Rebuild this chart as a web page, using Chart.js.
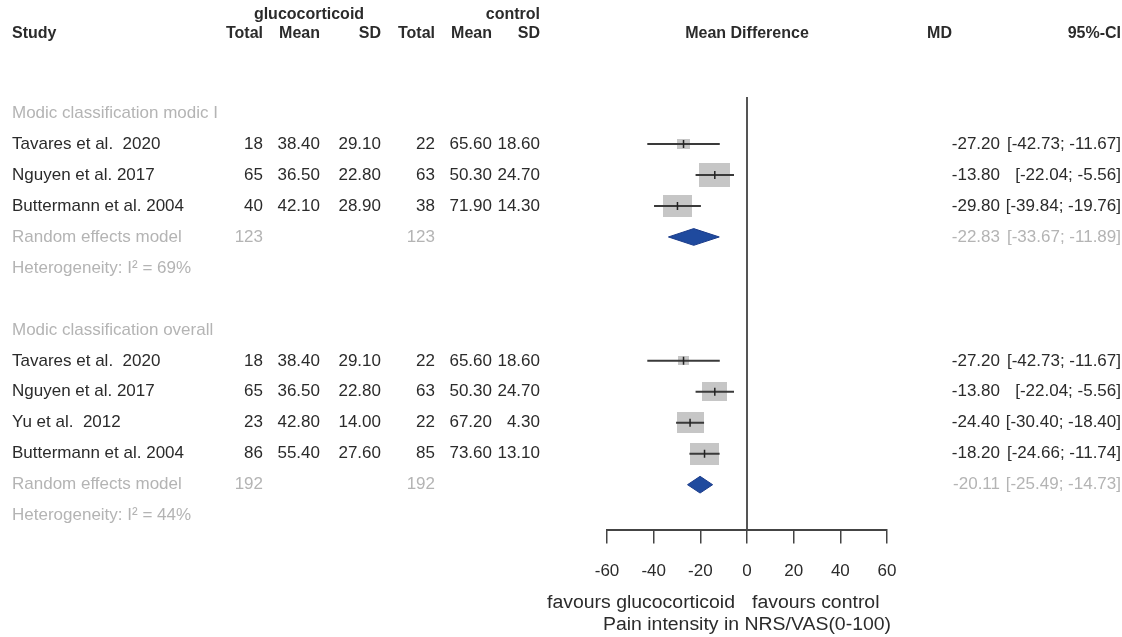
<!DOCTYPE html>
<html>
<head>
<meta charset="utf-8">
<script src="https://cdn.jsdelivr.net/npm/chart.js@4"></script>
<style>
  html, body { margin: 0; padding: 0; background: #fff; }
  #wrap { width: 1122px; height: 637px; position: relative; }
</style>
</head>
<body>
<div id="wrap"><canvas id="forest"></canvas></div>
<script>
// --- data ---
const groupLabels = ['Modic classification modic I', 'Modic classification overall'];

const g1Study = ['Tavares et al.  2020', 'Nguyen et al. 2017', 'Buttermann et al. 2004'];
const g1TotalE = [18, 65, 40];
const g1MeanE = [38.40, 36.50, 42.10];
const g1SdE = [29.10, 22.80, 28.90];
const g1TotalC = [22, 63, 38];
const g1MeanC = [65.60, 50.30, 71.90];
const g1SdC = [18.60, 24.70, 14.30];
const g1MD = [-27.20, -13.80, -29.80];
const g1Lo = [-42.73, -22.04, -39.84];
const g1Hi = [-11.67, -5.56, -19.76];
const g1Weight = [7, 38, 32];

const g2Study = ['Tavares et al.  2020', 'Nguyen et al. 2017', 'Yu et al.  2012', 'Buttermann et al. 2004'];
const g2TotalE = [18, 65, 23, 86];
const g2MeanE = [38.40, 36.50, 42.80, 55.40];
const g2SdE = [29.10, 22.80, 14.00, 27.60];
const g2TotalC = [22, 63, 22, 85];
const g2MeanC = [65.60, 50.30, 67.20, 73.60];
const g2SdC = [18.60, 24.70, 4.30, 13.10];
const g2MD = [-27.20, -13.80, -24.40, -18.20];
const g2Lo = [-42.73, -22.04, -30.40, -24.66];
const g2Hi = [-11.67, -5.56, -18.40, -11.74];
const g2Weight = [5, 24, 29, 32];

const pooledTotalE = [123, 192];
const pooledTotalC = [123, 192];
const pooledMD = [-22.83, -20.11];
const pooledLo = [-33.67, -25.49];
const pooledHi = [-11.89, -14.73];
const hetI2 = [69, 44];

const xTickValues = [-60, -40, -20, 0, 20, 40, 60];

// --- build the row table ---
const groups = [
  {label: groupLabels[0], study: g1Study, nE: g1TotalE, mE: g1MeanE, sE: g1SdE,
   nC: g1TotalC, mC: g1MeanC, sC: g1SdC, md: g1MD, lo: g1Lo, hi: g1Hi, w: g1Weight},
  {label: groupLabels[1], study: g2Study, nE: g2TotalE, mE: g2MeanE, sE: g2SdE,
   nC: g2TotalC, mC: g2MeanC, sC: g2SdC, md: g2MD, lo: g2Lo, hi: g2Hi, w: g2Weight}
];

const rows = [];
let r = 0;
groups.forEach((g, gi) => {
  if (gi > 0) r++;
  rows.push({type: 'label', y: r++, gi});
  g.study.forEach((s, i) => rows.push({type: 'study', y: r++, gi, i}));
  rows.push({type: 'pooled', y: r++, gi});
  rows.push({type: 'het', y: r++, gi});
});

const TEXT = '#2b2b2b';
const GREY = '#b4b4b4';
const FAMILY = '"Liberation Sans", Arial, sans-serif';
const FONT = '17px ' + FAMILY;
const BOLD = 'bold 16px ' + FAMILY;
const AXIS_FONT = '18px ' + FAMILY;

// grey weight boxes, a bit wider than tall like in the picture
function boxImage(side) {
  const c = document.createElement('canvas');
  c.width = Math.round(side * 1.3);
  c.height = Math.round(side);
  const g = c.getContext('2d');
  g.fillStyle = '#c6c6c6';
  g.fillRect(0, 0, c.width, c.height);
  return c;
}

const ciData = [], pointData = [], squareData = [], squareStyle = [];
rows.filter(row => row.type === 'study').forEach(row => {
  const g = groups[row.gi];
  ciData.push({x: g.lo[row.i], y: row.y}, {x: g.hi[row.i], y: row.y}, {x: null, y: null});
  pointData.push({x: g.md[row.i], y: row.y});
  squareData.push({x: g.md[row.i], y: row.y});
  squareStyle.push(boxImage(3.9 * Math.sqrt(g.w[row.i])));
});

const diamondSets = rows.filter(row => row.type === 'pooled').map(row => ({
  type: 'line',
  data: [
    {x: pooledLo[row.gi], y: row.y},
    {x: pooledMD[row.gi], y: row.y - 0.27},
    {x: pooledHi[row.gi], y: row.y},
    {x: pooledMD[row.gi], y: row.y + 0.27},
    {x: pooledLo[row.gi], y: row.y}
  ],
  borderColor: '#1a3b8a',
  backgroundColor: '#1f4a9e',
  borderWidth: 1,
  fill: 'shape',
  pointRadius: 0,
  tension: 0,
  order: 1
}));

const yMin = -0.52, yMax = 13.45;

const fmt = v => v.toFixed(2);

const tablePlugin = {
  id: 'forestTable',
  afterDraw(chart) {
    const ctx = chart.ctx;
    const ys = chart.scales.y, xs = chart.scales.x;
    const area = chart.chartArea;
    const cols = [263, 320, 381, 435, 492, 540];
    const mdRight = 1000, ciRight = 1121;
    ctx.save();
    ctx.textBaseline = 'middle';

    const put = (txt, x, y, align, color, font, sx) => {
      ctx.save();
      ctx.font = font || FONT;
      ctx.fillStyle = color || TEXT;
      ctx.textAlign = align || 'left';
      ctx.translate(x, y);
      ctx.scale(sx || 1, 1);
      ctx.fillText(txt, 0, 0);
      ctx.restore();
    };
    const head = (txt, x, y, align) => put(txt, x, y, align, TEXT, BOLD);

    // headers
    const h1 = area.top - 82, h2 = area.top - 63;
    head('glucocorticoid', 309, h1, 'center');
    head('control', cols[5], h1, 'right');
    head('Study', 12, h2, 'left');
    ['Total', 'Mean', 'SD', 'Total', 'Mean', 'SD'].forEach((t, k) => head(t, cols[k], h2, 'right'));
    head('Mean Difference', xs.getPixelForValue(0), h2, 'center');
    head('MD', 952, h2, 'right');
    head('95%-CI', ciRight, h2, 'right');

    rows.forEach(row => {
      const g = groups[row.gi];
      const py = ys.getPixelForValue(row.y);
      if (row.type === 'label') {
        put(g.label, 12, py, 'left', GREY);
      } else if (row.type === 'study') {
        const i = row.i;
        put(g.study[i], 12, py);
        put(String(g.nE[i]), cols[0], py, 'right');
        put(fmt(g.mE[i]), cols[1], py, 'right');
        put(fmt(g.sE[i]), cols[2], py, 'right');
        put(String(g.nC[i]), cols[3], py, 'right');
        put(fmt(g.mC[i]), cols[4], py, 'right');
        put(fmt(g.sC[i]), cols[5], py, 'right');
        put(fmt(g.md[i]), mdRight, py, 'right');
        put('[' + fmt(g.lo[i]) + '; ' + fmt(g.hi[i]) + ']', ciRight, py, 'right');
      } else if (row.type === 'pooled') {
        put('Random effects model', 12, py, 'left', GREY);
        put(String(pooledTotalE[row.gi]), cols[0], py, 'right', GREY);
        put(String(pooledTotalC[row.gi]), cols[3], py, 'right', GREY);
        put(fmt(pooledMD[row.gi]), mdRight, py, 'right', GREY);
        put('[' + fmt(pooledLo[row.gi]) + '; ' + fmt(pooledHi[row.gi]) + ']', ciRight, py, 'right', GREY);
      } else if (row.type === 'het') {
        put('Heterogeneity: I\u00B2 = ' + hetI2[row.gi] + '%', 12, py, 'left', GREY);
      }
    });

    // axis labels under the scale
    const zx = xs.getPixelForValue(0);
    put('favours glucocorticoid', zx - 12, area.bottom + 73, 'right', TEXT, AXIS_FONT, 1.08);
    put('favours control', zx + 5, area.bottom + 73, 'left', TEXT, AXIS_FONT, 1.08);
    put('Pain intensity in NRS/VAS(0-100)', (xs.left + xs.right) / 2, area.bottom + 95, 'center', TEXT, AXIS_FONT, 1.08);
    ctx.restore();
  }
};

new Chart(document.getElementById('forest'), {
  type: 'line',
  data: {
    datasets: [
      {
        type: 'line',
        data: [{x: 0, y: yMin}, {x: 0, y: yMax}],
        borderColor: '#555',
        borderWidth: 2,
        pointRadius: 0,
        order: 5
      },
      {
        type: 'scatter',
        data: squareData,
        pointStyle: squareStyle,
        order: 4
      },
      {
        type: 'line',
        data: ciData,
        borderColor: '#3a3a3a',
        borderWidth: 2,
        pointRadius: 0,
        spanGaps: false,
        order: 3
      },
      {
        type: 'scatter',
        data: pointData,
        pointStyle: 'line',
        rotation: 90,
        pointRadius: 4,
        borderColor: '#222',
        borderWidth: 1.5,
        order: 2
      },
      ...diamondSets
    ]
  },
  options: {
    responsive: true,
    maintainAspectRatio: false,
    animation: false,
    events: [],
    layout: {padding: {left: 607, right: 235, top: 97, bottom: 37}},
    plugins: {legend: {display: false}, tooltip: {enabled: false}},
    scales: {
      x: {
        type: 'linear',
        min: -60,
        max: 60,
        afterBuildTicks: axis => { axis.ticks = xTickValues.map(v => ({value: v})); },
        grid: {drawOnChartArea: false, drawTicks: true, tickLength: 14, color: '#444', lineWidth: 1.5},
        border: {color: '#444', width: 2},
        ticks: {color: TEXT, font: {family: FAMILY, size: 17}, padding: 18, maxRotation: 0}
      },
      y: {
        type: 'linear',
        reverse: true,
        min: yMin,
        max: yMax,
        display: false
      }
    }
  },
  plugins: [tablePlugin]
});
</script>
</body>
</html>
